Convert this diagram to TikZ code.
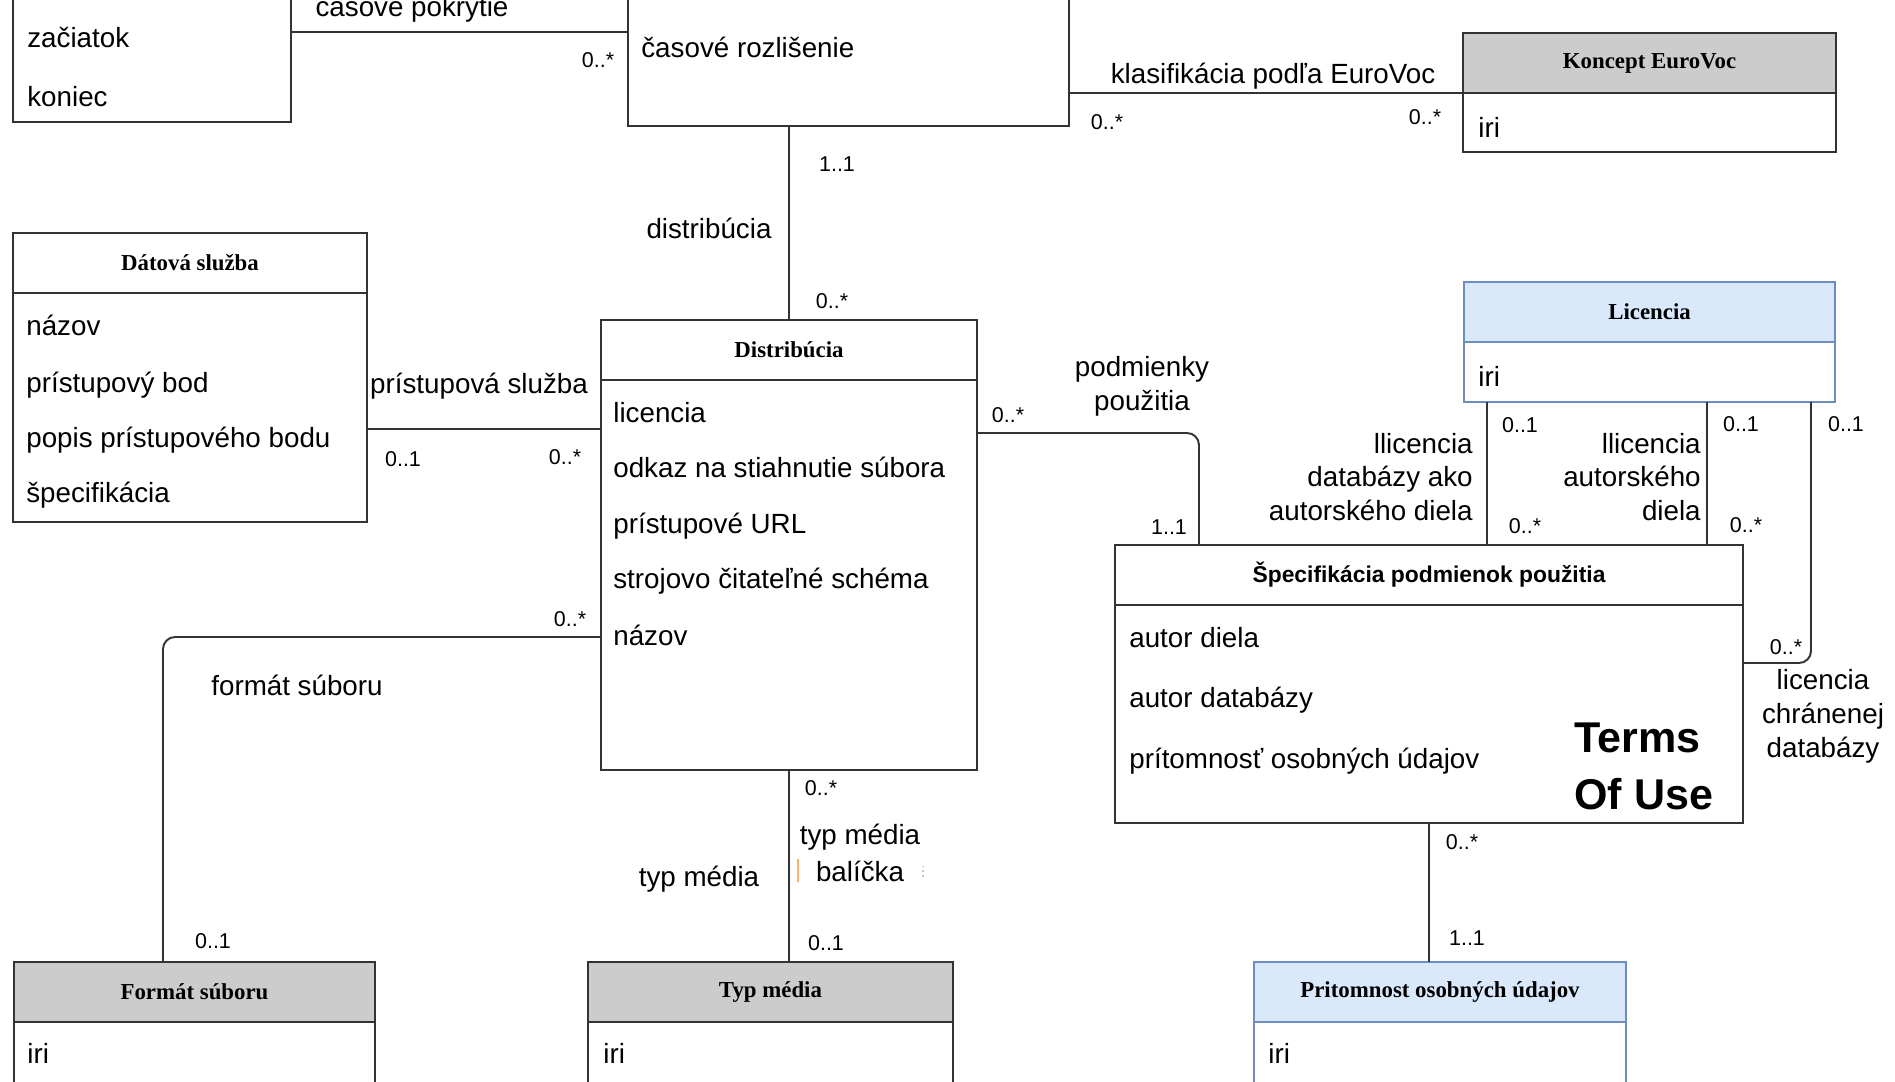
\documentclass[tikz,border=0pt]{standalone}
\usepackage{fontspec}
\setmainfont{Liberation Sans}
\newfontfamily\serifhead{Liberation Serif}
\usetikzlibrary{positioning}

\definecolor{umlgray}{HTML}{CCCCCC}
\definecolor{umlblue}{HTML}{DAE8FC}
\definecolor{umlblueline}{HTML}{6C8EBF}
\definecolor{umlline}{HTML}{333333}

\begin{document}
\begin{tikzpicture}
	\tikzstyle{head} = [draw=umlline, line width=1.1pt, fill=white, inner sep=0pt, outer sep=0pt, minimum height=1.2cm, anchor=north west, font=\serifhead\bfseries\fontsize{13}{15}\selectfont]
	\tikzstyle{body} = [draw=umlline, line width=1.1pt, fill=white, inner sep=0pt, outer sep=0pt]
	\tikzstyle{attr} = [anchor=west, inner sep=0pt, text height=11.4pt, text depth=0pt, font=\fontsize{15.8}{19}\selectfont]
	\tikzstyle{lbl} = [inner sep=0pt, text height=11.4pt, text depth=0pt, font=\fontsize{15.8}{19}\selectfont]
	\tikzstyle{lblm} = [inner sep=0pt, font=\fontsize{15.8}{19.3}\selectfont]
	\tikzstyle{mult} = [inner sep=0pt, font=\fontsize{12.2}{14}\selectfont]
	\tikzstyle{rel} = [draw=umlline, line width=1.1pt]

	\fill[white] (0,0) rectangle (37.9,21.62);
	\useasboundingbox (0,0) rectangle (37.9,21.62);

	% classes
	\node[body, anchor=south west, minimum width=5.56cm, minimum height=3cm] (ivl) at (0.26,19.18) {};
	\node[body, anchor=south west, minimum width=8.82cm, minimum height=3cm] (res) at (12.56,19.10) {};
	\node[head, fill=umlgray, minimum width=7.46cm] (eurovocHead) at (29.26,20.96) {Koncept EuroVoc};
	\node[body, minimum width=7.46cm, minimum height=1.18cm, below=0pt of eurovocHead] (eurovoc) {};
	\node[head, minimum width=7.08cm] (serviceHead) at (0.26,16.96) {Dátová služba};
	\node[body, minimum width=7.08cm, minimum height=4.58cm, below=0pt of serviceHead] (service) {};
	\node[head, minimum width=7.52cm] (distHead) at (12.02,15.22) {Distribúcia};
	\node[body, minimum width=7.52cm, minimum height=7.8cm, below=0pt of distHead] (dist) {};
	\node[head, draw=umlblueline, fill=umlblue, minimum width=7.42cm] (licHead) at (29.28,15.98) {Licencia};
	\node[body, draw=umlblueline, minimum width=7.42cm, minimum height=1.2cm, below=0pt of licHead] (lic) {};
	\node[head, minimum width=12.56cm, font=\bfseries\fontsize{13}{15}\selectfont] (specHead) at (22.30,10.72) {Špecifikácia podmienok použitia};
	\node[body, minimum width=12.56cm, minimum height=4.36cm, below=0pt of specHead] (spec) {};
	\node[head, fill=umlgray, minimum width=7.22cm] (formatHead) at (0.28,2.38) {Formát súboru};
	\node[body, minimum width=7.22cm, minimum height=1.4cm, below=0pt of formatHead] (format) {};
	\node[head, fill=umlgray, minimum width=7.30cm] (mediaHead) at (11.76,2.38) {Typ média};
	\node[body, minimum width=7.30cm, minimum height=1.4cm, below=0pt of mediaHead] (media) {};
	\node[head, draw=umlblueline, fill=umlblue, minimum width=7.44cm] (personalHead) at (25.08,2.38) {Pritomnost osobných údajov};
	\node[body, draw=umlblueline, minimum width=7.44cm, minimum height=1.4cm, below=0pt of personalHead] (personal) {};

	% attributes
	\node[attr] (ivlStart) at (0.54,20.88) {začiatok};
	\node[attr] (ivlEnd) at (0.54,19.70) {koniec};
	\node[attr] (resTime) at (12.82,20.68) {časové rozlišenie};
	\node[attr] (eurovocIri) at (29.56,19.08) {iri};
	\node[attr] (serviceName) at (0.52,15.12) {názov};
	\node[attr] (servicePoint) at (0.52,13.98) {prístupový bod};
	\node[attr] (serviceDesc) at (0.52,12.88) {popis prístupového bodu};
	\node[attr] (serviceSpec) at (0.52,11.78) {špecifikácia};
	\node[attr] (distLicense) at (12.26,13.38) {licencia};
	\node[attr] (distDownload) at (12.26,12.28) {odkaz na stiahnutie súbora};
	\node[attr] (distAccess) at (12.26,11.16) {prístupové URL};
	\node[attr] (distSchema) at (12.26,10.06) {strojovo čitateľné schéma};
	\node[attr] (distName) at (12.26,8.92) {názov};
	\node[attr] (licIri) at (29.56,14.10) {iri};
	\node[attr] (specAuthor) at (22.58,8.88) {autor diela};
	\node[attr] (specDbAuthor) at (22.58,7.68) {autor databázy};
	\node[attr] (specPersonal) at (22.58,6.46) {prítomnosť osobných údajov};
	\node[attr] (formatIri) at (0.54,0.56) {iri};
	\node[attr] (mediaIri) at (12.06,0.56) {iri};
	\node[attr] (personalIri) at (25.36,0.56) {iri};
	\node[anchor=west, inner sep=0pt, align=left, font=\bfseries\fontsize{24.5}{32.4}\selectfont] (terms) at (31.48,6.29) {Terms\\Of Use};

	% connection points
	\coordinate (pokrytie) at (5.82,20.98);
	\coordinate (pristup) at (7.34,13.04);
	\coordinate (podm) at (23.98,12.96);
	\coordinate (licA) at (29.74,12);
	\coordinate (licB) at (34.14,12);
	\coordinate (licC) at (36.22,8.36);
	\coordinate (formatC) at (3.26,8.88);

	% connectors
	\draw[rel] (pokrytie) -- (pokrytie -| res.west);
	\draw[rel] (distHead.north) -- (distHead.north |- res.south);
	\draw[rel] (res.east |- eurovocHead.south west) -- (eurovocHead.south west);
	\draw[rel] (pristup) -- (pristup -| distHead.west);
	\draw[rel, rounded corners=.24cm] (podm -| dist.east) -| (podm |- specHead.north);
	\draw[rel] (licA |- lic.south) -- (licA |- specHead.north);
	\draw[rel] (licB |- lic.south) -- (licB |- specHead.north);
	\draw[rel, rounded corners=.24cm] (licC |- lic.south) |- (spec.east |- licC);
	\draw[rel, rounded corners=.24cm] (formatC -| dist.west) -| (formatC |- formatHead.north);
	\draw[rel] (dist.south) -- (dist.south |- mediaHead.north);
	\draw[rel] (spec.south) -- (spec.south |- personalHead.north);

	% labels
	\node[lbl, anchor=base] (lblPokrytie) at (8.24,21.28) {časové pokrytie};
	\node[mult] (m1) at (11.96,20.42) {0..*};
	\node[lbl] (lblDistr) at (14.18,17.06) {distribúcia};
	\node[mult] (m2) at (16.74,18.34) {1..1};
	\node[mult] (m3) at (16.64,15.60) {0..*};
	\node[lbl] (lblKlasif) at (25.46,20.16) {klasifikácia podľa EuroVoc};
	\node[mult] (m4) at (22.14,19.18) {0..*};
	\node[mult] (m5) at (28.50,19.28) {0..*};
	\node[lbl] (lblPristup) at (9.58,13.96) {prístupová služba};
	\node[mult] (m6) at (8.06,12.44) {0..1};
	\node[mult] (m7) at (11.30,12.48) {0..*};
	\node[lblm, align=center] (lblPodm) at (22.84,13.90) {podmienky\\použitia};
	\node[mult] (m8) at (20.16,13.32) {0..*};
	\node[mult] (m9) at (23.38,11.08) {1..1};
	\node[lblm, align=right, anchor=east] (lblLicDb) at (29.46,12.08) {llicencia\\databázy ako\\autorského diela};
	\node[mult] (m10) at (30.40,13.12) {0..1};
	\node[mult] (m11) at (30.50,11.10) {0..*};
	\node[lblm, align=right, anchor=east] (lblLicAut) at (34.02,12.08) {llicencia\\autorského\\diela};
	\node[mult] (m12) at (34.82,13.14) {0..1};
	\node[mult] (m13) at (34.92,11.12) {0..*};
	\node[mult] (m14) at (36.92,13.14) {0..1};
	\node[mult] (m15) at (35.72,8.68) {0..*};
	\node[lblm, align=center] (lblLicChr) at (36.46,7.30) {licencia\\chránenej\\databázy};
	\node[lbl] (lblFormat) at (5.94,7.92) {formát súboru};
	\node[mult] (m16) at (11.40,9.24) {0..*};
	\node[mult] (m17) at (4.26,2.80) {0..1};
	\node[mult] (m18) at (16.42,5.86) {0..*};
	\node[lbl] (lblMedia) at (17.20,4.94) {typ média};
	\node[lbl] (lblBalicka) at (17.20,4.20) {balíčka};
	\node[lbl] (lblMediaL) at (13.98,4.10) {typ média};
	\node[mult] (m19) at (16.52,2.76) {0..1};
	\node[mult] (m20) at (29.24,4.78) {0..*};
	\node[mult] (m21) at (29.34,2.86) {1..1};

	\draw[orange!60, line width=1pt] (15.96,3.98) -- (15.96,4.44);
	\draw[umlblueline!50, line width=1pt, dotted] (18.46,4.08) -- (18.46,4.30);
\end{tikzpicture}
\end{document}
